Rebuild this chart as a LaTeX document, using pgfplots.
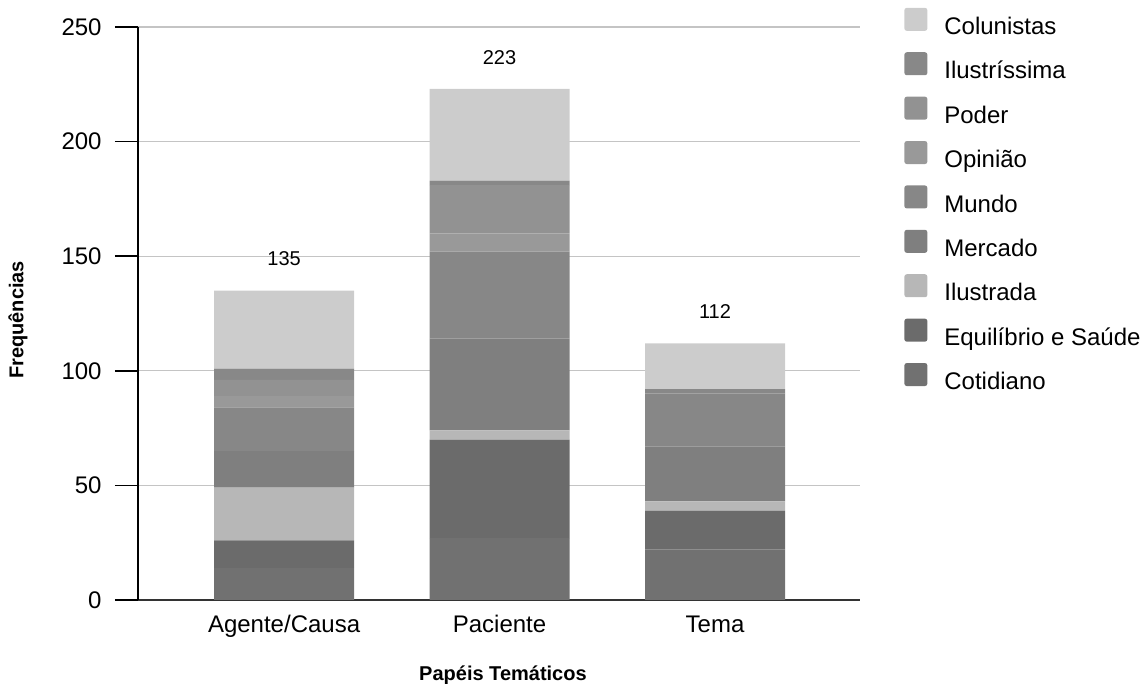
\documentclass[border=0pt]{standalone}
\usepackage{pgfplots}
\pgfplotsset{compat=1.18}
\usepackage{pgfplotstable}
\usepackage{fontspec}
\setmainfont{Liberation Sans}

% Frequencies of each section per thematic role (stacked bottom to top)
\pgfplotstableread{
x Cotidiano Equilibrio Ilustrada Mercado Mundo Opiniao Poder Ilustrissima Colunistas
0 14 12 23 16 19 5 7 5 34
1 27 43 4 40 38 8 21 2 40
2 22 17 4 24 23 0 0 2 20
}\papeis

\definecolor{cCotidiano}{HTML}{717171}
\definecolor{cEquilibrio}{HTML}{6B6B6B}
\definecolor{cIlustrada}{HTML}{B7B7B7}
\definecolor{cMercado}{HTML}{7F7F7F}
\definecolor{cMundo}{HTML}{878787}
\definecolor{cOpiniao}{HTML}{999999}
\definecolor{cPoder}{HTML}{929292}
\definecolor{cIlustrissima}{HTML}{888888}
\definecolor{cColunistas}{HTML}{CCCCCC}
\definecolor{gridgray}{HTML}{C4C4C4}

\begin{document}
\begin{tikzpicture}
\path[use as bounding box] (-69pt,-42pt) rectangle (503.5pt,300pt);
\begin{axis}[
  scale only axis,
  width=361pt, height=286.5pt,
  ybar stacked, bar width=70pt,
  xmin=-0.678, xmax=2.673,
  ymin=0, ymax=250,
  enlargelimits=false,
  xtick={0,1,2},
  xticklabels={Agente/Causa,Paciente,Tema},
  ytick={0,50,...,250},
  axis lines=left,
  axis line style={-},
  x axis line style={draw=black!80, line width=1pt},
  y axis line style={draw=black, line width=0.8pt},
  tick align=outside,
  major tick length=11.5pt,
  xtick style={draw=none},
  ytick style={draw=black, line width=0.8pt},
  ymajorgrids,
  major grid style={draw=gridgray, line width=0.6pt},
  /pgf/number format/assume math mode=true,
  tick label style={font=\fontsize{12}{14}\selectfont},
  yticklabel style={inner sep=0pt, xshift=-6.5pt},
  xticklabel style={inner sep=0pt, anchor=base, yshift=-4.5pt},
  xlabel={\bfseries Papéis Temáticos},
  ylabel={\bfseries Frequências},
  label style={font=\fontsize{10}{12}\selectfont},
  xlabel style={at={(axis description cs:0.5055,-0.131)}, anchor=center},
  ylabel style={at={(axis description cs:-0.1662,0.4887)}, anchor=center},
  every axis plot/.append style={draw=none,
    legend image code/.code={
      \fill[##1, rounded corners=1.2pt] (0pt,-1.45pt) rectangle (11.5pt,10.05pt);
      \path (20pt,0pt);
    }},
  reverse legend,
  legend cell align=left,
  legend style={at={(1.0526,1.0411)}, anchor=north west, draw=none, fill=none,
    font=\fontsize{12}{14}\selectfont, row sep=6.4pt,
    nodes={inner sep=0pt, text height=9pt, text depth=2.5pt}},
]
\addplot[fill=cCotidiano] table[x=x, y=Cotidiano] {\papeis};
\addlegendentry{Cotidiano}
\addplot[fill=cEquilibrio] table[x=x, y=Equilibrio] {\papeis};
\addlegendentry{Equilíbrio e Saúde}
\addplot[fill=cIlustrada] table[x=x, y=Ilustrada] {\papeis};
\addlegendentry{Ilustrada}
\addplot[fill=cMercado] table[x=x, y=Mercado] {\papeis};
\addlegendentry{Mercado}
\addplot[fill=cMundo] table[x=x, y=Mundo] {\papeis};
\addlegendentry{Mundo}
\addplot[fill=cOpiniao] table[x=x, y=Opiniao] {\papeis};
\addlegendentry{Opinião}
\addplot[fill=cPoder] table[x=x, y=Poder] {\papeis};
\addlegendentry{Poder}
\addplot[fill=cIlustrissima] table[x=x, y=Ilustrissima] {\papeis};
\addlegendentry{Ilustríssima}
\addplot[fill=cColunistas] table[x=x, y=Colunistas] {\papeis};
\addlegendentry{Colunistas}

% totals above each bar
\node[font=\fontsize{10}{12}\selectfont, anchor=center, yshift=15.8pt] at (axis cs:0,135) {135};
\node[font=\fontsize{10}{12}\selectfont, anchor=center, yshift=15.8pt] at (axis cs:1,223) {223};
\node[font=\fontsize{10}{12}\selectfont, anchor=center, yshift=15.8pt] at (axis cs:2,112) {112};
\end{axis}
\end{tikzpicture}
\end{document}
